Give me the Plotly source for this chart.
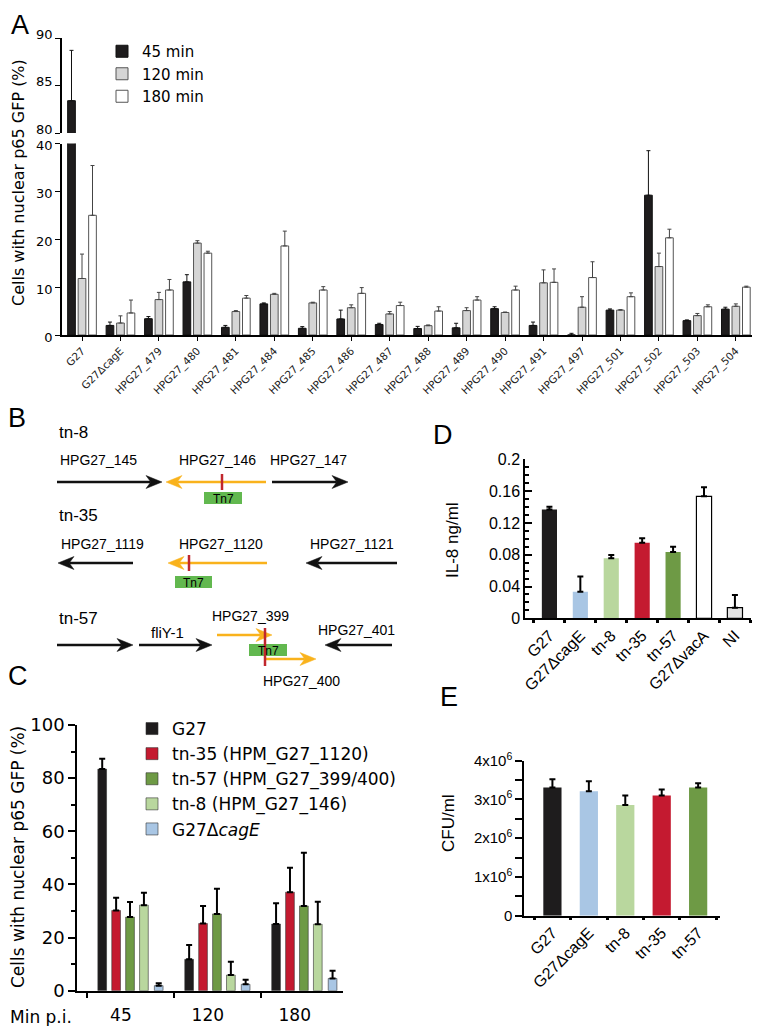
import plotly.graph_objects as go

# reference picture size and the page offset (browser body margin)
REF_W, REF_H = 762, 1034
OFF = 8
W, H = REF_W - OFF, REF_H - 2 * OFF
LIB = "Liberation Sans, Arial, sans-serif"
DJV = "DejaVu Sans, Verdana, sans-serif"

# ---------------- Panel A data ----------------
a_cats = ["G27", "G27ΔcagE", "HPG27_479", "HPG27_480", "HPG27_481", "HPG27_484",
          "HPG27_485", "HPG27_486", "HPG27_487", "HPG27_488", "HPG27_489", "HPG27_490",
          "HPG27_491", "HPG27_497", "HPG27_501", "HPG27_502", "HPG27_503", "HPG27_504"]
a_45 = [83.4, 2.0, 3.4, 11.1, 1.6, 6.5, 1.4, 3.35, 2.2, 1.35, 1.5, 5.5, 2.0, 0.0, 5.2, 29.2, 3.0, 5.4]
a_45_err = [5.3, 0.7, 0.45, 1.5, 0.4, 0.2, 0.35, 1.85, 0.25, 0.45, 0.95, 0.4, 0.7, 0.35, 0.25, 9.3, 0.15, 0.4]
a_120 = [11.8, 2.5, 7.4, 19.2, 4.9, 8.5, 6.7, 5.7, 4.4, 1.95, 5.1, 4.7, 10.9, 5.8, 5.2, 14.3, 4.05, 6.0]
a_120_err = [5.1, 1.5, 1.5, 0.5, 0.2, 0.2, 0.15, 0.6, 0.5, 0.15, 0.6, 0.1, 2.7, 2.2, 0.1, 2.8, 0.45, 0.5]
a_180 = [25.0, 4.6, 9.4, 17.1, 7.7, 18.6, 9.4, 8.7, 6.15, 5.0, 7.3, 9.4, 11.0, 12.0, 8.0, 20.3, 5.9, 10.0]
a_180_err = [10.4, 2.7, 2.2, 0.4, 0.55, 3.1, 0.7, 1.2, 0.7, 0.9, 0.7, 0.8, 2.8, 3.3, 0.8, 1.8, 0.4, 0.2]

# ---------------- Panel C data ----------------
c_times = ["45", "120", "180"]
c_g27 = [83.4, 11.8, 25.1]
c_g27_err = [3.9, 5.4, 7.8]
c_tn35 = [30.2, 25.3, 37.1]
c_tn35_err = [4.8, 6.6, 9.2]
c_tn57 = [27.7, 28.9, 31.9]
c_tn57_err = [5.7, 9.5, 20.0]
c_tn8 = [32.2, 5.9, 25.0]
c_tn8_err = [4.7, 5.0, 8.5]
c_cage = [1.9, 2.4, 4.6]
c_cage_err = [0.9, 1.7, 2.9]

# ---------------- Panel D data ----------------
d_strains = ["G27", "G27ΔcagE", "tn-8", "tn-35", "tn-57", "G27ΔvacA", "NI"]
d_il8 = [0.137, 0.0335, 0.0755, 0.0952, 0.0834, 0.1535, 0.0134]
d_il8_err = [0.0035, 0.019, 0.0042, 0.0054, 0.0067, 0.0113, 0.0159]

# ---------------- Panel E data ----------------
e_strains = ["G27", "G27ΔcagE", "tn-8", "tn-35", "tn-57"]
e_cfu = [3.31e6, 3.21e6, 2.86e6, 3.10e6, 3.31e6]
e_cfu_err = [0.21e6, 0.26e6, 0.24e6, 0.16e6, 0.11e6]

BLACK = "#1e1c1d"
RED = "#c41a30"
DGREEN = "#6e9a45"
LGREEN = "#b9d79e"
LBLUE = "#a9c6e4"


def py(y):
    return 1 - (y - OFF) / H


def px(x):
    return (x - OFF) / W


fig = go.Figure()

# ---------- Panel A bars (lower + upper broken axis) ----------
a_specs = [
    ("45 min", a_45, a_45_err, BLACK, "#111111", "#111111", -0.373),
    ("120 min", a_120, a_120_err, "#d5d5d5", "#555555", "#444444", -0.1),
    ("180 min", a_180, a_180_err, "#ffffff", "#555555", "#444444", 0.173),
]
for name, vals, errs, fill, lc, ec, off in a_specs:
    for yax in ["y", "y2"]:
        fig.add_trace(go.Bar(
            x=a_cats, y=vals, xaxis="x", yaxis=yax, width=0.2, offset=off,
            marker=dict(color=fill, line=dict(color=lc, width=1)),
            error_y=dict(type="data", array=errs, arrayminus=[0] * len(errs), symmetric=False,
                         color=ec, thickness=1, width=2),
            name=name, showlegend=(yax == "y"), legend="legend", hoverinfo="skip"))

# ---------- Panel C bars ----------
c_specs = [
    ("G27", c_g27, c_g27_err, BLACK, -0.33),
    ("tn-35 (HPM_G27_1120)", c_tn35, c_tn35_err, RED, -0.17),
    ("tn-57 (HPM_G27_399/400)", c_tn57, c_tn57_err, DGREEN, -0.01),
    ("tn-8 (HPM_G27_146)", c_tn8, c_tn8_err, LGREEN, 0.15),
    ("G27Δ<i>cagE</i>", c_cage, c_cage_err, LBLUE, 0.32),
]
for name, vals, errs, col, ctr in c_specs:
    fig.add_trace(go.Bar(
        x=c_times, y=vals, xaxis="x4", yaxis="y4", width=0.1, offset=ctr - 0.05,
        marker=dict(color=col, line=dict(color="#333333", width=0.6)),
        error_y=dict(type="data", array=errs, arrayminus=[0] * 3, symmetric=False,
                     color="black", thickness=2, width=3),
        name=name, legend="legend2", hoverinfo="skip"))

# ---------- Panel D bars ----------
d_colors = [BLACK, LBLUE, LGREEN, RED, DGREEN, "#ffffff", "#e4e4e4"]
d_lw = [0, 0, 0, 0, 0, 1.2, 1.2]
fig.add_trace(go.Bar(
    x=d_strains, y=d_il8, xaxis="x5", yaxis="y5", width=0.49,
    marker=dict(color=d_colors, line=dict(color="black", width=d_lw)),
    error_y=dict(type="data", array=d_il8_err, arrayminus=[0] * 7, symmetric=False,
                 color="black", thickness=2, width=3),
    showlegend=False, hoverinfo="skip"))

# ---------- Panel E bars ----------
e_colors = [BLACK, LBLUE, LGREEN, RED, DGREEN]
fig.add_trace(go.Bar(
    x=e_strains, y=e_cfu, xaxis="x6", yaxis="y6", width=0.5,
    marker=dict(color=e_colors, line=dict(width=0)),
    error_y=dict(type="data", array=e_cfu_err, arrayminus=[0] * 5, symmetric=False,
                 color="black", thickness=2, width=3),
    showlegend=False, hoverinfo="skip"))

# ---------- Overlay pixel axis for diagram & labels ----------
fig.add_trace(go.Scatter(x=[OFF + 1], y=[OFF + 1], xaxis="x7", yaxis="y7", mode="markers",
                         marker=dict(opacity=0), showlegend=False, hoverinfo="skip"))

shapes = []
annotations = []


def ann(x, y, text, size, xanchor="center", angle=0, family=LIB):
    annotations.append(dict(x=x, y=y, xref="x7", yref="y7", text=text, showarrow=False,
                            xanchor=xanchor, yanchor="middle", textangle=angle,
                            font=dict(family=family, size=size, color="black")))


YEL = "#f9b21c"
DRED = "#c0272d"
GRN = "#62b84f"

# gene arrows: (start, tip, y, color)
b_arrows = [
    (57, 162, 482, "#111111"), (266, 166, 482, YEL), (272, 348, 482, "#111111"),
    (133, 58, 563, "#111111"), (267, 168, 563, YEL), (397, 306, 563, "#111111"),
    (57, 133, 645, "#111111"), (139, 212, 645, "#111111"), (392, 325, 645, "#111111"),
]
b_boxes = [(204, 242, 492, 504), (175, 212, 576, 588), (249, 287, 644, 656)]

for x0, x1, y0, y1 in b_boxes:
    shapes.append(dict(type="rect", xref="x7", yref="y7", x0=x0, x1=x1, y0=y0, y1=y1,
                       fillcolor=GRN, line=dict(width=0), layer="above"))
    ann((x0 + x1) / 2, (y0 + y1) / 2 + 0.5, "Tn7", 12)

b_arrows_top = [(217, 272, 635, YEL), (265, 316, 659, YEL)]


def arrow(xs, xt, y, col):
    d = 1 if xt > xs else -1
    hl, hh = 16, 6.5
    shapes.append(dict(type="line", xref="x7", yref="y7", x0=xs, x1=xt - d * hl * 0.7, y0=y, y1=y,
                       line=dict(color=col, width=2.5), layer="above"))
    shapes.append(dict(type="path", xref="x7", yref="y7",
                       path=f"M {xt},{y} L {xt - d * hl},{y - hh} L {xt - d * hl * 0.7},{y} L {xt - d * hl},{y + hh} Z",
                       fillcolor=col, line=dict(color=col, width=0.5), layer="above"))


for a in b_arrows + b_arrows_top:
    arrow(*a)

# red insertion marks
for x, y0, y1 in [(222, 474, 490), (189, 555, 571), (265, 628, 666)]:
    shapes.append(dict(type="line", xref="x7", yref="y7", x0=x, x1=x, y0=y0, y1=y1,
                       line=dict(color=DRED, width=2.5), layer="above"))

# diagram labels
ann(57, 432, "tn-8", 17, xanchor="left")
ann(98, 460, "HPG27_145", 14)
ann(217, 460, "HPG27_146", 14)
ann(308, 460, "HPG27_147", 14)
ann(57, 515, "tn-35", 17, xanchor="left")
ann(102, 544, "HPG27_1119", 14)
ann(221, 544, "HPG27_1120", 14)
ann(352, 544, "HPG27_1121", 14)
ann(57, 618, "tn-57", 17, xanchor="left")
ann(167, 632, "fliY-1", 15)
ann(250, 616, "HPG27_399", 14)
ann(356, 630, "HPG27_401", 14)
ann(301, 681, "HPG27_400", 14)

# panel letters
for letter, x, y in [("A", 20, 25), ("B", 17, 418), ("C", 18, 676), ("D", 443, 435), ("E", 449, 697)]:
    ann(x, y, letter, 27)

# axis titles
ann(18, 183, "Cells with nuclear p65 GFP (%)", 16, angle=-90, family=DJV)
ann(18, 857, "Cells with nuclear p65 GFP (%)", 17, angle=-90, family=DJV)
ann(452, 540, "IL-8 ng/ml", 17, angle=-90)
ann(448, 823, "CFU/ml", 17, angle=-90)
ann(OFF, 1017, "Min p.i.", 17, xanchor="left", family=DJV)

axline = dict(showline=True, linecolor="black", linewidth=1.5, showgrid=False, zeroline=False,
              tickcolor="black", automargin=False)

fig.update_layout(
    width=W, height=H, autosize=False,
    margin=dict(l=0, r=0, t=0, b=0, pad=0),
    paper_bgcolor="white", plot_bgcolor="rgba(0,0,0,0)",
    barmode="overlay",
    font=dict(family=LIB, color="black"),
    showlegend=True,
    # Panel A
    xaxis=dict(domain=[px(62), px(752)], anchor="y", type="category", range=[-0.52, 17.42],
               ticks="outside", ticklen=4, tickwidth=1.2, tickangle=-45,
               tickfont=dict(size=10.5, color="#222", family=DJV), **axline),
    yaxis=dict(domain=[py(335), py(143.5)], anchor="x", range=[0, 40],
               tickvals=[0, 10, 20, 30, 40], ticks="outside", ticklen=5, ticklabelshift=2,
               tickfont=dict(size=13, family=DJV), **axline),
    yaxis2=dict(domain=[py(133), py(38)], anchor="x", range=[80, 90],
                tickvals=[80, 85, 90], ticks="outside", ticklen=5, ticklabelshift=-4,
                tickfont=dict(size=13, family=DJV), **axline),
    # Panel C
    xaxis4=dict(domain=[px(77), px(343)], anchor="y4", type="category", range=[-0.62, 2.44],
                tickson="boundaries", ticks="outside", ticklen=6, tickwidth=1.5,
                ticklabelshift=-10, ticklabelstandoff=8,
                tickfont=dict(size=17, family=DJV), **axline),
    yaxis4=dict(domain=[py(990.7), py(725)], anchor="x4", range=[0, 100],
                tickvals=[0, 20, 40, 60, 80, 100], ticks="outside", ticklen=7, tickwidth=1.5,
                minor=dict(dtick=10, ticks="outside", ticklen=4, tickcolor="black"),
                tickfont=dict(size=18, family=DJV), **axline),
    # Panel D
    xaxis5=dict(domain=[px(525), px(751)], anchor="y5", type="category", range=[-0.79, 6.52],
                tickson="boundaries", ticks="outside", ticklen=3, tickwidth=3, tickangle=-45,
                tickfont=dict(size=16), **axline),
    yaxis5=dict(domain=[py(618.3), py(459.3)], anchor="x5", range=[0, 0.2001],
                tickvals=[0, 0.04, 0.08, 0.12, 0.16, 0.2],
                ticktext=["0", "0.04", "0.08", "0.12", "0.16", "0.2"],
                ticks="inside", ticklen=7, tickwidth=1.5,
                minor=dict(dtick=0.01, ticks="inside", ticklen=4, tickcolor="black"),
                tickfont=dict(size=16), **axline),
    # Panel E
    xaxis6=dict(domain=[px(524), px(720)], anchor="y6", type="category", range=[-0.78, 4.6],
                tickson="boundaries", ticks="outside", ticklen=3, tickwidth=3, tickangle=-45,
                tickfont=dict(size=16), **axline),
    yaxis6=dict(domain=[py(915.7), py(760.7)], anchor="x6", range=[0, 4e6],
                tickvals=[0, 1e6, 2e6, 3e6, 4e6],
                ticktext=["0", "1x10<sup>6</sup>", "2x10<sup>6</sup>", "3x10<sup>6</sup>", "4x10<sup>6</sup>"],
                ticks="outside", ticklen=7, tickwidth=1.5,
                minor=dict(dtick=5e5, ticks="outside", ticklen=7, tickcolor="black"),
                tickfont=dict(size=15), **axline),
    # overlay pixel axes (reference-picture pixel coordinates)
    xaxis7=dict(domain=[0, 1], anchor="y7", range=[OFF, OFF + W], visible=False, automargin=False),
    yaxis7=dict(domain=[0, 1], anchor="x7", range=[OFF + H, OFF], visible=False, automargin=False),
    legend=dict(x=px(102), y=py(35), xanchor="left", yanchor="top", bgcolor="rgba(0,0,0,0)",
                font=dict(size=15, family=DJV), itemwidth=30, tracegroupgap=2),
    legend2=dict(x=px(132), y=py(711), xanchor="left", yanchor="top", bgcolor="rgba(0,0,0,0)",
                 font=dict(size=17, family=DJV), itemwidth=30),
    shapes=shapes,
    annotations=annotations,
)

fig.write_html("out.html")
